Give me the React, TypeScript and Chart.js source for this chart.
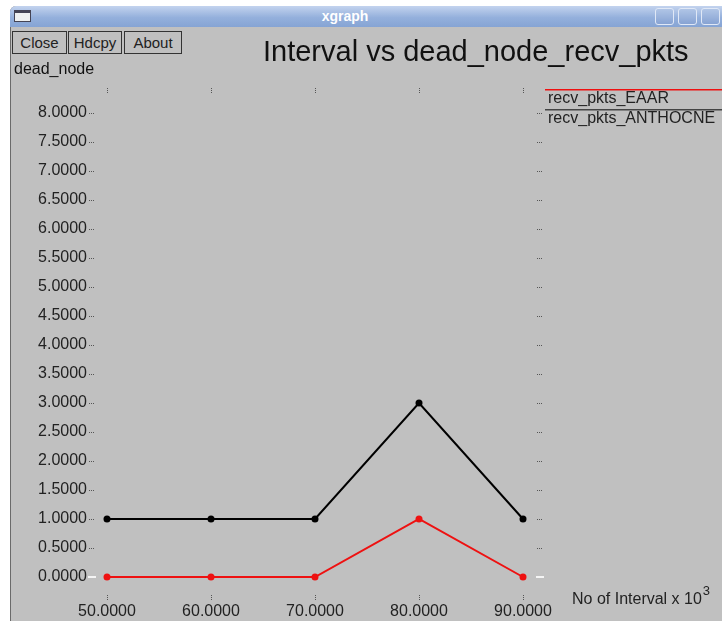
import React, { useEffect, useRef } from "react";
import { Chart, registerables } from "chart.js";

Chart.register(...registerables);

const intervals = [50, 60, 70, 80, 90];
const recvPktsEAAR = [0, 0, 0, 1, 0];
const recvPktsANTHOCNE = [1, 1, 1, 3, 1];
const seriesNames = ["recv_pkts_EAAR", "recv_pkts_ANTHOCNE"];
const chartTitle = "Interval vs dead_node_recv_pkts";
const yAxisTitle = "dead_node";
const xAxisTitle = "No of Interval x 10";
const xAxisExponent = "3";

const FONT = "'Liberation Sans', Arial, Helvetica, sans-serif";

const decorPlugin = {
  id: "xgraphDecor",
  afterDraw(chart: any) {
    const ctx = chart.ctx;
    const xs = chart.scales.x;
    const ys = chart.scales.y;
    ctx.save();
    // dotted tick marks
    ctx.fillStyle = "#555";
    xs.ticks.forEach((t: any) => {
      const px = Math.round(xs.getPixelForValue(t.value));
      for (let i = 0; i < 3; i++) {
        ctx.fillRect(px, 88 + i * 2, 1, 1);
        ctx.fillRect(px, 595 + i * 2, 1, 1);
      }
    });
    ys.ticks.forEach((t: any) => {
      const py = Math.round(ys.getPixelForValue(t.value));
      if (t.value === 0) {
        ctx.fillStyle = "#f4f4f4";
        ctx.fillRect(88, py - 1, 8, 2);
        ctx.fillRect(536, py - 1, 8, 2);
        ctx.fillStyle = "#555";
        return;
      }
      for (let i = 0; i < 3; i++) {
        ctx.fillRect(89 + i * 2, py, 1, 1);
        ctx.fillRect(537 + i * 2, py, 1, 1);
      }
    });
    // titles
    ctx.fillStyle = "#111";
    ctx.textBaseline = "alphabetic";
    ctx.textAlign = "left";
    ctx.font = `29px ${FONT}`;
    ctx.fillText(chartTitle, 263, 61);
    ctx.font = `16px ${FONT}`;
    ctx.fillStyle = "#111";
    ctx.fillText(yAxisTitle, 14, 74);
    ctx.fillStyle = "#222";
    ctx.font = `16px ${FONT}`;
    ctx.fillText(xAxisTitle, 572, 604);
    const w = ctx.measureText(xAxisTitle).width;
    ctx.font = `13px ${FONT}`;
    ctx.fillText(xAxisExponent, 572 + w + 1, 595);
    // legend
    const colors = ["#ee1111", "#444444"];
    const lineY = [89, 109];
    const textY = [103, 123];
    seriesNames.forEach((name, i) => {
      ctx.fillStyle = colors[i];
      ctx.fillRect(545, lineY[i], 180, 1.5);
      ctx.fillStyle = "#222";
      ctx.font = `16px ${FONT}`;
      ctx.fillText(name, 548, textY[i]);
    });
    ctx.restore();
  },
};

function TitleBar() {
  return (
    <>
      <div
        style={{
          position: "absolute",
          left: 10,
          top: 6,
          width: 720,
          height: 21,
          borderTopLeftRadius: 6,
          background: "linear-gradient(#c3d3ee, #94b0dc 55%, #86a4d4)",
        }}
      />
      <div
        style={{
          position: "absolute",
          left: 14,
          top: 10,
          width: 17,
          height: 12,
          background: "#eef0f0",
          border: "1px solid #445",
          boxSizing: "border-box",
          borderTop: "3px solid #445",
        }}
      />
      <div
        style={{
          position: "absolute",
          left: 300,
          top: 7,
          width: 90,
          textAlign: "center",
          fontFamily: FONT,
          fontWeight: "bold",
          fontSize: 14,
          color: "#fff",
          lineHeight: "18px",
        }}
      >
        xgraph
      </div>
      {[655, 678, 701].map((x, i) => (
        <div
          key={i}
          style={{
            position: "absolute",
            left: x,
            top: 8,
            width: 19,
            height: 17,
            border: "1px solid #e0e8f6",
            borderRadius: 3,
            boxSizing: "border-box",
            background: "linear-gradient(#b0c5e6, #87a3d3)",
          }}
        />
      ))}
    </>
  );
}

function Buttons() {
  const btns = [
    { label: "Close", left: 12, width: 55 },
    { label: "Hdcpy", left: 68, width: 54 },
    { label: "About", left: 124, width: 58 },
  ];
  return (
    <>
      {btns.map((b) => (
        <div
          key={b.label}
          style={{
            position: "absolute",
            left: b.left,
            top: 31,
            width: b.width,
            height: 23,
            border: "1px solid #333",
            boxSizing: "border-box",
            fontFamily: FONT,
            fontSize: 15,
            color: "#222",
            textAlign: "center",
            lineHeight: "21px",
          }}
        >
          {b.label}
        </div>
      ))}
    </>
  );
}

export default function App() {
  const canvasRef = useRef<HTMLCanvasElement | null>(null);

  useEffect(() => {
    const canvas = canvasRef.current;
    if (!canvas) return;
    const tickFont = { family: FONT, size: 16 };
    const chart = new Chart(canvas, {
      type: "line",
      data: {
        datasets: [
          {
            label: seriesNames[1],
            data: intervals.map((x, i) => ({ x, y: recvPktsANTHOCNE[i] })),
            borderColor: "#000",
            backgroundColor: "#000",
            borderWidth: 2,
            pointRadius: 3.5,
            pointBorderWidth: 0,
            tension: 0,
            clip: false,
          },
          {
            label: seriesNames[0],
            data: intervals.map((x, i) => ({ x, y: recvPktsEAAR[i] })),
            borderColor: "#ee1111",
            backgroundColor: "#ee1111",
            borderWidth: 2,
            pointRadius: 3.5,
            pointBorderWidth: 0,
            tension: 0,
            clip: false,
          },
        ],
      },
      options: {
        responsive: false,
        animation: false,
        devicePixelRatio: 1,
        layout: { padding: { top: 113, right: 199, bottom: 0, left: 0 } },
        plugins: {
          legend: { display: false },
          title: { display: false },
          tooltip: { enabled: false },
        },
        scales: {
          x: {
            type: "linear",
            min: 50,
            max: 90,
            grid: { display: false, drawTicks: false },
            border: { display: false },
            ticks: {
              stepSize: 10,
              padding: 25,
              color: "#222",
              font: tickFont,
              maxRotation: 0,
              autoSkip: false,
              callback: (v: any) => Number(v).toFixed(4),
            },
            afterFit: (s: any) => {
              s.height = 44;
            },
          },
          y: {
            type: "linear",
            min: 0,
            max: 8,
            grid: { display: false, drawTicks: false },
            border: { display: false },
            ticks: {
              stepSize: 0.5,
              padding: 20,
              color: "#222",
              font: tickFont,
              autoSkip: false,
              callback: (v: any) => Number(v).toFixed(4),
            },
            afterFit: (s: any) => {
              s.width = 107;
            },
          },
        },
      },
      plugins: [decorPlugin],
    } as any);
    return () => chart.destroy();
  }, []);

  return (
    <div
      style={{
        position: "absolute",
        left: 0,
        top: 0,
        width: 722,
        height: 621,
        background: "#ffffff",
        overflow: "hidden",
      }}
    >
      <div
        style={{
          position: "absolute",
          left: 10,
          top: 6,
          width: 720,
          height: 620,
          background: "#c0c0c0",
          borderLeft: "1px solid #6a6a6a",
          borderTopLeftRadius: 6,
        }}
      />
      <TitleBar />
      <Buttons />
      <canvas
        ref={canvasRef}
        width={722}
        height={621}
        style={{ position: "absolute", left: 0, top: 0, width: 722, height: 621 }}
      />
    </div>
  );
}
